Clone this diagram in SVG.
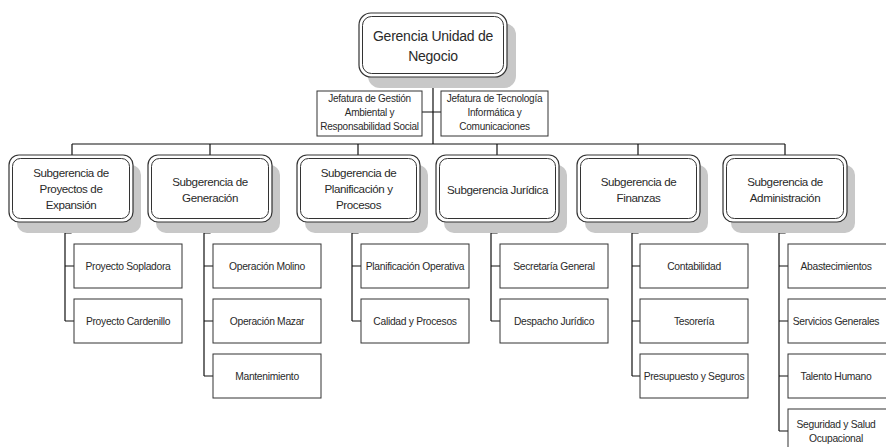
<svg xmlns="http://www.w3.org/2000/svg" width="886" height="447" viewBox="0 0 886 447">
<style>
text{font-family:"Liberation Sans",Arial,sans-serif;fill:#2a2a2a;text-anchor:middle;dominant-baseline:central}
.sh{fill:#c8c8c8}
.o{fill:#fff;stroke:#333;stroke-width:1.2}
.i{fill:#fff;stroke:#333;stroke-width:1}
.bx{fill:#fff;stroke:#333;stroke-width:1}
.c{fill:none;stroke:#111;stroke-width:1.2}
.t1{font-size:14px;letter-spacing:-0.25px}
.t2{font-size:11.6px;letter-spacing:-0.4px}
.t3{font-size:10px;letter-spacing:-0.25px}
.t4{font-size:10.3px;letter-spacing:-0.3px}
</style>
<rect width="886" height="447" fill="#fff"/>
<g id="connectors">
<path class="c" d="M433 77V144M422 112H441M72 144H785M72 144V155M210 144V155M358 144V155M497 144V155M638 144V155M785 144V155"/>
<path class="c" d="M71 222V233H65V321M65 266H74M65 321H74"/>
<path class="c" d="M210 222V233H204V376M204 266H213M204 321H213M204 376H213"/>
<path class="c" d="M358 222V233H352V321M352 266H361M352 321H361"/>
<path class="c" d="M497 222V233H491V321M491 266H500M491 321H500"/>
<path class="c" d="M638 222V233H632V376M632 266H640M632 321H640M632 376H640"/>
<path class="c" d="M785 222V233H779V431M779 266H788M779 321H788M779 376H788M779 431H788"/>
</g>
<g id="gerencia">
<rect class="sh" x="368" y="23" width="148" height="65" rx="12"/>
<rect class="o" x="359" y="13" width="148" height="64" rx="12"/>
<rect class="i" x="362.5" y="16.5" width="141" height="57" rx="9"/>
<text class="t1" x="433" y="36">Gerencia Unidad de</text>
<text class="t1" x="433" y="56">Negocio</text>
</g>
<g id="jefatura-gestion">
<rect class="bx" x="317" y="91" width="105" height="45"/>
<text class="t3" x="369.5" y="98">Jefatura de Gestión</text>
<text class="t3" x="369.5" y="112">Ambiental y</text>
<text class="t3" x="369.5" y="126">Responsabilidad Social</text>
</g>
<g id="jefatura-tecnologia">
<rect class="bx" x="441" y="91" width="107" height="45"/>
<text class="t3" x="494.5" y="98">Jefatura de Tecnología</text>
<text class="t3" x="494.5" y="112">Informática y</text>
<text class="t3" x="494.5" y="126">Comunicaciones</text>
</g>
<g id="sub-proyectos">
<rect class="sh" x="17" y="165" width="124" height="68" rx="10"/>
<rect class="o" x="9" y="155" width="124" height="67" rx="10"/>
<rect class="i" x="12.5" y="158.5" width="117" height="60" rx="8"/>
<text class="t2" x="71" y="172">Subgerencia de</text>
<text class="t2" x="71" y="188">Proyectos de</text>
<text class="t2" x="71" y="204">Expansión</text>
</g>
<g id="sub-generacion">
<rect class="sh" x="156" y="165" width="124" height="68" rx="10"/>
<rect class="o" x="148" y="155" width="124" height="67" rx="10"/>
<rect class="i" x="151.5" y="158.5" width="117" height="60" rx="8"/>
<text class="t2" x="210" y="181">Subgerencia de</text>
<text class="t2" x="210" y="197">Generación</text>
</g>
<g id="sub-planificacion">
<rect class="sh" x="305" y="165" width="123" height="68" rx="10"/>
<rect class="o" x="297" y="155" width="123" height="67" rx="10"/>
<rect class="i" x="300.5" y="158.5" width="116" height="60" rx="8"/>
<text class="t2" x="358.5" y="172">Subgerencia de</text>
<text class="t2" x="358.5" y="188">Planificación y</text>
<text class="t2" x="358.5" y="204">Procesos</text>
</g>
<g id="sub-juridica">
<rect class="sh" x="444" y="165" width="123" height="68" rx="10"/>
<rect class="o" x="436" y="155" width="123" height="67" rx="10"/>
<rect class="i" x="439.5" y="158.5" width="116" height="60" rx="8"/>
<text class="t2" x="497.5" y="189">Subgerencia Jurídica</text>
</g>
<g id="sub-finanzas">
<rect class="sh" x="585" y="165" width="123" height="68" rx="10"/>
<rect class="o" x="577" y="155" width="123" height="67" rx="10"/>
<rect class="i" x="580.5" y="158.5" width="116" height="60" rx="8"/>
<text class="t2" x="638.5" y="181">Subgerencia de</text>
<text class="t2" x="638.5" y="197">Finanzas</text>
</g>
<g id="sub-administracion">
<rect class="sh" x="731" y="165" width="124" height="68" rx="10"/>
<rect class="o" x="723" y="155" width="124" height="67" rx="10"/>
<rect class="i" x="726.5" y="158.5" width="117" height="60" rx="8"/>
<text class="t2" x="785" y="181">Subgerencia de</text>
<text class="t2" x="785" y="197">Administración</text>
</g>
<g id="proyecto-sopladora"><rect class="bx" x="74" y="244" width="108" height="44"/><text class="t4" x="128" y="266">Proyecto Sopladora</text></g>
<g id="proyecto-cardenillo"><rect class="bx" x="74" y="299" width="108" height="44"/><text class="t4" x="128" y="321">Proyecto Cardenillo</text></g>
<g id="operacion-molino"><rect class="bx" x="213" y="244" width="108" height="44"/><text class="t4" x="267" y="266">Operación Molino</text></g>
<g id="operacion-mazar"><rect class="bx" x="213" y="299" width="108" height="44"/><text class="t4" x="267" y="321">Operación Mazar</text></g>
<g id="mantenimiento"><rect class="bx" x="213" y="354" width="108" height="44"/><text class="t4" x="267" y="376">Mantenimiento</text></g>
<g id="planificacion-operativa"><rect class="bx" x="361" y="244" width="108" height="44"/><text class="t4" x="415" y="266">Planificación Operativa</text></g>
<g id="calidad-procesos"><rect class="bx" x="361" y="299" width="108" height="44"/><text class="t4" x="415" y="321">Calidad y Procesos</text></g>
<g id="secretaria-general"><rect class="bx" x="500" y="244" width="108" height="44"/><text class="t4" x="554" y="266">Secretaría General</text></g>
<g id="despacho-juridico"><rect class="bx" x="500" y="299" width="108" height="44"/><text class="t4" x="554" y="321">Despacho Jurídico</text></g>
<g id="contabilidad"><rect class="bx" x="640" y="244" width="108" height="44"/><text class="t4" x="694" y="266">Contabilidad</text></g>
<g id="tesoreria"><rect class="bx" x="640" y="299" width="108" height="44"/><text class="t4" x="694" y="321">Tesorería</text></g>
<g id="presupuesto-seguros"><rect class="bx" x="640" y="354" width="108" height="44"/><text class="t4" x="694" y="376">Presupuesto y Seguros</text></g>
<g id="abastecimientos"><rect class="bx" x="788" y="244" width="108" height="44"/><text class="t4" x="836" y="266">Abastecimientos</text></g>
<g id="servicios-generales"><rect class="bx" x="788" y="299" width="108" height="44"/><text class="t4" x="836" y="321">Servicios Generales</text></g>
<g id="talento-humano"><rect class="bx" x="788" y="354" width="108" height="44"/><text class="t4" x="836" y="376">Talento Humano</text></g>
<g id="seguridad-salud"><rect class="bx" x="788" y="409" width="108" height="44"/><text class="t4" x="836" y="424">Seguridad y Salud</text><text class="t4" x="836" y="438">Ocupacional</text></g>
</svg>
